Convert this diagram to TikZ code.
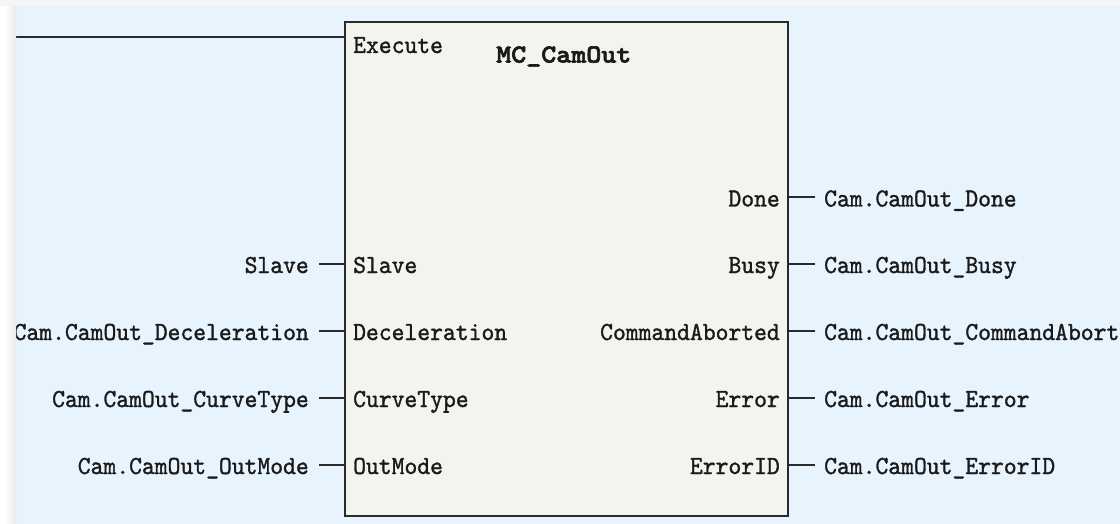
\documentclass[tikz,border=0pt]{standalone}
\usepackage{fontspec}
\newfontfamily\plcfont{lmmono10-regular.otf}[FakeStretch=0.94,FakeBold=1.2]
\newfontfamily\plcbold{lmmonolt10-bold.otf}[FakeStretch=1.1,FakeBold=2.5]
\definecolor{bgblue}{HTML}{E7F4FE}
\definecolor{fbfill}{HTML}{F4F4EF}
\definecolor{fbline}{HTML}{2A2A2A}
\definecolor{txt}{HTML}{1A1A1A}
\tikzset{
  fbbox/.style={draw=fbline, line width=1.8pt, fill=fbfill, inner sep=0pt, minimum width=443pt, minimum height=494pt},
  wire/.style={draw=fbline, line width=2pt},
  lbl/.style={inner sep=0pt, text=txt, font=\plcfont\fontsize{26}{28}\selectfont},
  ttl/.style={inner sep=0pt, text=txt, font=\plcbold\fontsize{26}{28}\selectfont},
}
\begin{document}
\begin{tikzpicture}[x=1pt,y=-1pt]
\useasboundingbox (0,0) rectangle (1120,524);
% background
\fill[bgblue] (16,6) rectangle (1120,524);
% function block
\node[fbbox] (fb) at (566.5,269) {};
\node[ttl, anchor=base west] (title) at (496,62.5) {MC\_CamOut};
% Execute
\coordinate (exL) at (16,37);
\draw[wire] (exL) -- (exL -| fb.west);
\node[lbl, anchor=base west] (pExec) at (353,53) {Execute};
% inputs
\coordinate (sSlave) at (319,264);
\coordinate (sDecel) at (319,331);
\coordinate (sCurve) at (319,398);
\coordinate (sOut) at (319,465);
\foreach \c in {sSlave,sDecel,sCurve,sOut}{\draw[wire] (\c) -- (\c -| fb.west);}
\node[lbl, anchor=base east] (xSlave) at (309,273) {Slave};
\node[lbl, anchor=base east] (xDecel) at (309,340) {Cam.CamOut\_Deceleration};
\node[lbl, anchor=base east] (xCurve) at (309,407) {Cam.CamOut\_CurveType};
\node[lbl, anchor=base east] (xOut) at (309,474) {Cam.CamOut\_OutMode};
\node[lbl, anchor=base west] (pSlave) at (353,273) {Slave};
\node[lbl, anchor=base west] (pDecel) at (353,340) {Deceleration};
\node[lbl, anchor=base west] (pCurve) at (353,407) {CurveType};
\node[lbl, anchor=base west] (pOut) at (353,474) {OutMode};
% outputs
\coordinate (oDone) at (815,197.5);
\coordinate (oBusy) at (815,264);
\coordinate (oCmd) at (815,331);
\coordinate (oErr) at (815,398);
\coordinate (oErrID) at (815,465);
\foreach \c in {oDone,oBusy,oCmd,oErr,oErrID}{\draw[wire] (\c -| fb.east) -- (\c);}
\node[lbl, anchor=base east] (qDone) at (780,206.5) {Done};
\node[lbl, anchor=base east] (qBusy) at (780,273) {Busy};
\node[lbl, anchor=base east] (qCmd) at (780,340) {CommandAborted};
\node[lbl, anchor=base east] (qErr) at (780,407) {Error};
\node[lbl, anchor=base east] (qErrID) at (780,474) {ErrorID};
\node[lbl, anchor=base west] (yDone) at (824,206.5) {Cam.CamOut\_Done};
\node[lbl, anchor=base west] (yBusy) at (824,273) {Cam.CamOut\_Busy};
\node[lbl, anchor=base west] (yCmd) at (824,340) {Cam.CamOut\_CommandAborted};
\node[lbl, anchor=base west] (yErr) at (824,407) {Cam.CamOut\_Error};
\node[lbl, anchor=base west] (yErrID) at (824,474) {Cam.CamOut\_ErrorID};
% window margins (drawn last, they clip the cut-off label)
\fill[white] (0,0) rectangle (16,524);
\fill[white] (0,0) rectangle (1120,6);
\shade[left color=white, right color=black!8] (4,6) rectangle (16,524);
\fill[black!4] (0,0) rectangle (1120,6);
\end{tikzpicture}
\end{document}
